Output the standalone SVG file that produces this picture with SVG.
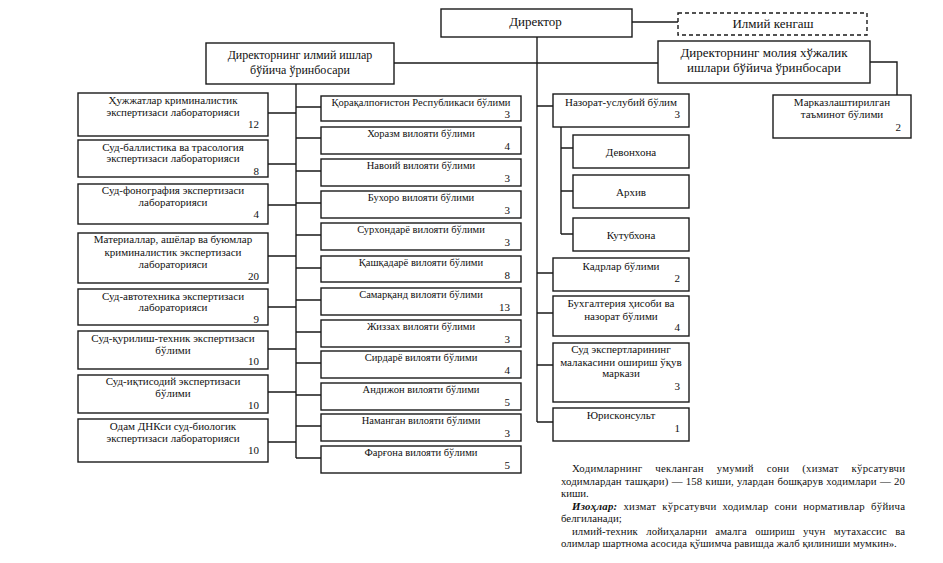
<svg xmlns="http://www.w3.org/2000/svg" width="943" height="563" viewBox="0 0 943 563">
<style>
rect.b{fill:#fff;stroke:#1a1a1a;stroke-width:1.4}
rect.d{fill:#fff;stroke:#1a1a1a;stroke-width:1.4;stroke-dasharray:4 3}
.c path{fill:none;stroke:#1a1a1a;stroke-width:1.4}
text{font-family:"Liberation Serif","Times New Roman",serif;fill:#111}
.t{font-size:11px;text-anchor:middle}
.m{font-size:10.5px;text-anchor:middle}
.n{font-size:11px;text-anchor:end}
.h{font-size:13px;text-anchor:middle}
.h2{font-size:12px;text-anchor:middle}
.note{font-size:10.8px}
.bi{font-weight:bold;font-style:italic}
</style>
<rect width="943" height="563" fill="#fff"/>
<g class="c" id="connectors">
<path d="M632 22H678"/>
<path d="M537 37V422"/>
<path d="M394 63H658"/>
<path d="M870 62H897V95"/>
<path d="M296 84V458"/>
<path d="M268 113H296M268 164H296M268 205H296M268 256H296M268 307H296M268 349H296M268 392H296M268 442H296"/>
<path d="M296 107H321M296 138H321M296 171H321M296 203H321M296 235H321M296 268H321M296 300H321M296 332H321M296 363H321M296 395H321M296 426H321M296 458H321"/>
<path d="M537 106H553M537 273H553M537 313H553M537 365H553M537 422H553"/>
<path d="M561 127V234M561 148H573M561 191H573M561 234H573"/>
</g>
<g id="director"><rect class="b" x="441" y="9" width="191" height="28"/><text class="h" x="535.5" y="26">Директор</text></g>
<g id="council"><rect class="d" x="678" y="13" width="189" height="22"/><text class="h" x="773" y="28">Илмий кенгаш</text></g>
<g id="deputy-sci"><rect class="b" x="206" y="43" width="188" height="41"/><text class="h2" x="300" y="59">Директорнинг илмий ишлар</text><text class="h2" x="300" y="74">бўйича ўринбосари</text></g>
<g id="deputy-fin"><rect class="b" x="658" y="41" width="212" height="42"/><text class="h" x="764" y="57">Директорнинг молия хўжалик</text><text class="h" x="764" y="72">ишлари бўйича ўринбосари</text></g>

<g id="l1"><rect class="b" x="78" y="93" width="190" height="43"/><text class="t" x="173" y="104">Ҳужжатлар криминалистик</text><text class="t" x="173" y="116">экспертизаси лабораторияси</text><text class="n" x="259" y="128">12</text></g>
<g id="l2"><rect class="b" x="78" y="140" width="190" height="37"/><text class="t" x="173" y="151">Суд-баллистика ва трасология</text><text class="t" x="173" y="162">экспертизаси лабораторияси</text><text class="n" x="259" y="175">8</text></g>
<g id="l3"><rect class="b" x="78" y="184" width="190" height="40"/><text class="t" x="173" y="194">Суд-фонография экспертизаси</text><text class="t" x="173" y="206">лабораторияси</text><text class="n" x="259" y="218">4</text></g>
<g id="l4"><rect class="b" x="78" y="233" width="190" height="50"/><text class="t" x="173" y="243">Материаллар, ашёлар ва буюмлар</text><text class="t" x="173" y="256">криминалистик экспертизаси</text><text class="t" x="173" y="268">лабораторияси</text><text class="n" x="259" y="280">20</text></g>
<g id="l5"><rect class="b" x="78" y="289" width="190" height="36"/><text class="t" x="173" y="300">Суд-автотехника экспертизаси</text><text class="t" x="173" y="311">лабораторияси</text><text class="n" x="259" y="323">9</text></g>
<g id="l6"><rect class="b" x="78" y="331" width="190" height="38"/><text class="t" x="173" y="342">Суд-қурилиш-техник экспертизаси</text><text class="t" x="173" y="354">бўлими</text><text class="n" x="259" y="365">10</text></g>
<g id="l7"><rect class="b" x="78" y="375" width="190" height="38"/><text class="t" x="173" y="385">Суд-иқтисодий экспертизаси</text><text class="t" x="173" y="397">бўлими</text><text class="n" x="259" y="409">10</text></g>
<g id="l8"><rect class="b" x="78" y="419" width="190" height="43"/><text class="t" x="173" y="430">Одам ДНКси суд-биологик</text><text class="t" x="173" y="442">экспертизаси лабораторияси</text><text class="n" x="259" y="454">10</text></g>

<g id="m1"><rect class="b" x="321" y="96" width="200" height="25"/><text class="m" x="421" y="106">Қорақалпоғистон Республикаси бўлими</text><text class="n" x="510" y="118">3</text></g>
<g id="m2"><rect class="b" x="321" y="127" width="200" height="27"/><text class="m" x="421" y="137">Хоразм вилояти бўлими</text><text class="n" x="510" y="150">4</text></g>
<g id="m3"><rect class="b" x="321" y="159" width="200" height="27"/><text class="m" x="421" y="169">Навоий вилояти бўлими</text><text class="n" x="510" y="182">3</text></g>
<g id="m4"><rect class="b" x="321" y="191" width="200" height="27"/><text class="m" x="421" y="201">Бухоро вилояти бўлими</text><text class="n" x="510" y="214">3</text></g>
<g id="m5"><rect class="b" x="321" y="223" width="200" height="27"/><text class="m" x="421" y="233">Сурхондарё вилояти бўлими</text><text class="n" x="510" y="246">3</text></g>
<g id="m6"><rect class="b" x="321" y="256" width="200" height="26"/><text class="m" x="421" y="266">Қашқадарё вилояти бўлими</text><text class="n" x="510" y="279">8</text></g>
<g id="m7"><rect class="b" x="321" y="288" width="200" height="27"/><text class="m" x="421" y="298">Самарқанд вилояти бўлими</text><text class="n" x="510" y="311">13</text></g>
<g id="m8"><rect class="b" x="321" y="320" width="200" height="27"/><text class="m" x="421" y="330">Жиззах вилояти бўлими</text><text class="n" x="510" y="343">3</text></g>
<g id="m9"><rect class="b" x="321" y="351" width="200" height="27"/><text class="m" x="421" y="361">Сирдарё вилояти бўлими</text><text class="n" x="510" y="374">4</text></g>
<g id="m10"><rect class="b" x="321" y="383" width="200" height="27"/><text class="m" x="421" y="393">Андижон вилояти бўлими</text><text class="n" x="510" y="406">5</text></g>
<g id="m11"><rect class="b" x="321" y="414" width="200" height="27"/><text class="m" x="421" y="424">Наманган вилояти бўлими</text><text class="n" x="510" y="437">3</text></g>
<g id="m12"><rect class="b" x="321" y="446" width="200" height="27"/><text class="m" x="421" y="456">Фарғона вилояти бўлими</text><text class="n" x="510" y="469">5</text></g>

<g id="r1"><rect class="b" x="553" y="94" width="136" height="33"/><text class="t" x="621" y="106">Назорат-услубий бўлим</text><text class="n" x="680" y="118">3</text></g>
<g id="r1a"><rect class="b" x="573" y="135" width="116" height="33"/><text class="t" x="631" y="156">Девонхона</text></g>
<g id="r1b"><rect class="b" x="573" y="175" width="116" height="33"/><text class="t" x="631" y="196">Архив</text></g>
<g id="r1c"><rect class="b" x="573" y="218" width="116" height="33"/><text class="t" x="631" y="239">Кутубхона</text></g>
<g id="r2"><rect class="b" x="553" y="258" width="136" height="33"/><text class="t" x="621" y="270">Кадрлар бўлими</text><text class="n" x="680" y="282">2</text></g>
<g id="r3"><rect class="b" x="553" y="296" width="136" height="40"/><text class="t" x="621" y="307">Бухгалтерия ҳисоби ва</text><text class="t" x="621" y="320">назорат бўлими</text><text class="n" x="680" y="331">4</text></g>
<g id="r4"><rect class="b" x="553" y="343" width="136" height="59"/><text class="t" x="621" y="353">Суд экспертларининг</text><text class="t" x="621" y="366">малакасини ошириш ўқув</text><text class="t" x="621" y="377">маркази</text><text class="n" x="680" y="390">3</text></g>
<g id="r5"><rect class="b" x="553" y="408" width="136" height="33"/><text class="t" x="621" y="419">Юрисконсульт</text><text class="n" x="680" y="432">1</text></g>
<g id="f1"><rect class="b" x="773" y="95" width="138" height="43"/><text class="t" x="842" y="106">Марказлаштирилган</text><text class="t" x="842" y="118">таъминот бўлими</text><text class="n" x="901" y="131">2</text></g>

<g id="notes" class="note">
<text x="572" y="472" word-spacing="10" textLength="333" lengthAdjust="spacing">Ходимларнинг чекланган умумий сони (хизмат кўрсатувчи</text>
<text x="561" y="485" word-spacing="0.5" textLength="344" lengthAdjust="spacing">ходимлардан ташқари) — 158 киши, улардан бошқарув ходимлари — 20</text>
<text x="561" y="497">киши.</text>
<text x="572" y="510" word-spacing="3" textLength="333" lengthAdjust="spacing"><tspan class="bi">Изоҳлар:</tspan> хизмат кўрсатувчи ходимлар сони нормативлар бўйича</text>
<text x="561" y="522">белгиланади;</text>
<text x="572" y="535" word-spacing="5.5" textLength="333" lengthAdjust="spacing">илмий-техник лойиҳаларни амалга ошириш учун мутахассис ва</text>
<text x="561" y="547">олимлар шартнома асосида қўшимча равишда жалб қилиниши мумкин».</text>
</g>
</svg>
